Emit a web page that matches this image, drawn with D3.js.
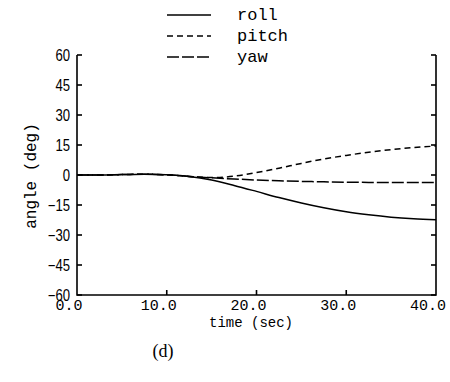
<!DOCTYPE html>
<html>
<head>
<meta charset="utf-8">
<script src="https://cdn.jsdelivr.net/npm/d3@7"></script>
<style>
body { margin: 0; background: #fff; }
svg { display: block; }
</style>
</head>
<body>
<svg id="svg" width="450" height="382"></svg>
<script>
// values
var time  = [0, 2.5, 5, 7.5, 10, 12.5, 15, 17.5, 20, 22.5, 25, 27.5, 30, 32.5, 35, 37.5, 40];
var roll  = [0, 0, 0.2, 0.4, 0.1, -0.7, -2.5, -5.2, -8.2, -11.3, -14.0, -16.4, -18.4, -19.9, -21.1, -21.9, -22.4];
var pitch = [0, 0, 0.2, 0.4, 0.1, -0.7, -1.3, -0.6, 1.2, 3.4, 5.8, 8.0, 9.8, 11.4, 12.7, 13.7, 14.5];
var yaw   = [0, 0, 0.2, 0.4, 0.1, -0.7, -1.4, -2.0, -2.5, -2.9, -3.2, -3.4, -3.6, -3.7, -3.8, -3.8, -3.8];
var names = ["roll", "pitch", "yaw"];
var xTicks = [0, 10, 20, 30, 40];
var xTickLabels = ["0.0", "10.0", "20.0", "30.0", "40.0"];
var yTicks = [-60, -45, -30, -15, 0, 15, 30, 45, 60];

var svg = d3.select("#svg");
var x = d3.scaleLinear().domain([0, 40]).range([77, 436]);
var y = d3.scaleLinear().domain([-60, 60]).range([295, 55]);

var dashes = { roll: null, pitch: "6,4", yaw: "12,3" };
var series = { roll: roll, pitch: pitch, yaw: yaw };

// frame: left, right, bottom (no top line)
var frame = svg.append("g").style("stroke", "#000").style("stroke-width", 1.6).style("fill", "none");
frame.append("path").attr("d", "M" + x(0) + "," + y(60) + "V" + y(-60) + "H" + x(40) + "V" + y(60));

yTicks.forEach(function (v) {
  frame.append("line").attr("x1", x(0)).attr("x2", x(0) + 5).attr("y1", y(v)).attr("y2", y(v));
  frame.append("line").attr("x1", x(40)).attr("x2", x(40) - 5).attr("y1", y(v)).attr("y2", y(v));
  svg.append("text")
    .attr("transform", "translate(70," + (y(v) + 6) + ") scale(0.82,1)")
    .attr("text-anchor", "end")
    .style("font-family", "Liberation Sans")
    .style("font-size", "16px")
    .text(v < 0 ? "\u2212" + Math.abs(v) : v);
});

xTicks.forEach(function (v, i) {
  if (v > 0 && v < 40) {
    frame.append("line").attr("x1", x(v)).attr("x2", x(v)).attr("y1", y(-60)).attr("y2", y(-60) - 5);
  }
  svg.append("text")
    .attr("x", x(v) - 8)
    .attr("y", 310)
    .attr("text-anchor", "middle")
    .style("font-family", "Liberation Mono")
    .style("font-size", "15px")
    .text(xTickLabels[i]);
});

// curves
var line = d3.line()
  .x(function (d, i) { return x(time[i]); })
  .y(function (d) { return y(d); })
  .curve(d3.curveMonotoneX);

names.forEach(function (n) {
  svg.append("path")
    .attr("d", line(series[n]))
    .style("fill", "none")
    .style("stroke", "#000")
    .style("stroke-width", 1.5)
    .style("stroke-dasharray", dashes[n]);
});

// legend
names.forEach(function (n, i) {
  var ly = 15 + i * 21;
  svg.append("line")
    .attr("x1", 167).attr("x2", 211).attr("y1", ly).attr("y2", ly)
    .style("stroke", "#000").style("stroke-width", 1.3)
    .style("stroke-dasharray", dashes[n]);
  svg.append("text")
    .attr("x", 237).attr("y", ly + 5)
    .style("font-family", "Liberation Mono")
    .style("font-size", "17px")
    .text(n);
});

// axis titles
svg.append("text")
  .attr("x", 251).attr("y", 327)
  .attr("text-anchor", "middle")
  .style("font-family", "Liberation Mono")
  .style("font-size", "14px")
  .text("time (sec)");

svg.append("text")
  .attr("transform", "translate(36,176) rotate(-90)")
  .attr("text-anchor", "middle")
  .style("font-family", "Liberation Mono")
  .style("font-size", "16px")
  .text("angle (deg)");

svg.append("text")
  .attr("x", 163).attr("y", 357)
  .attr("text-anchor", "middle")
  .style("font-family", "Liberation Serif")
  .style("font-size", "18px")
  .text("(d)");
</script>
</body>
</html>
